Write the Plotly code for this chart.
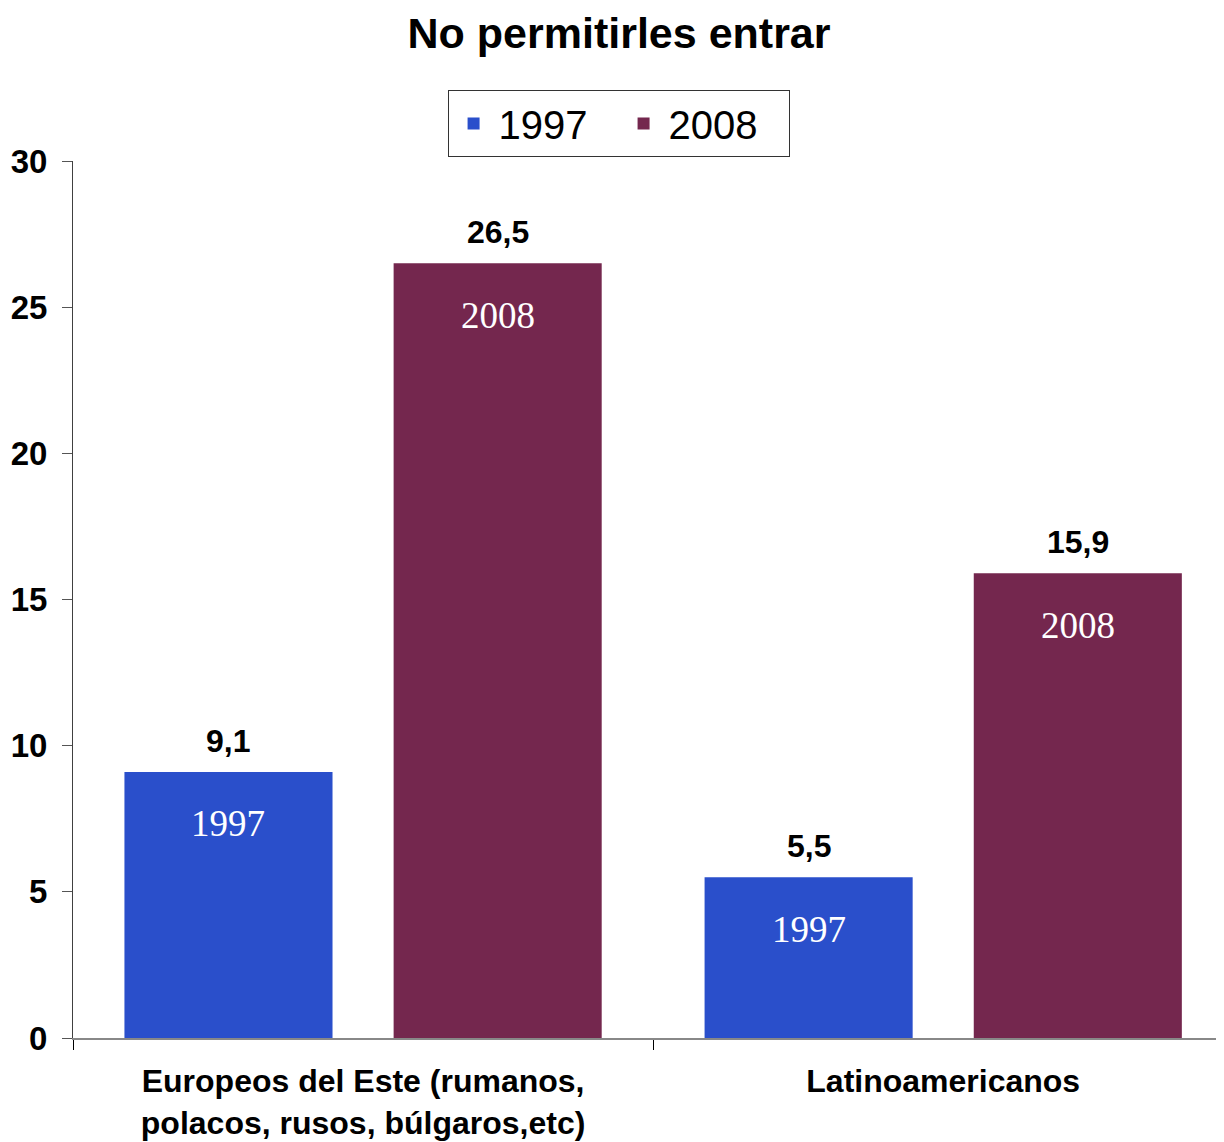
import plotly.graph_objects as go

CATEGORIES = ["Europeos del Este (rumanos,<br>polacos, rusos, búlgaros,etc)", "Latinoamericanos"]
YEARS = ["1997", "2008"]
VALUES_1997 = [9.1, 5.5]
VALUES_2008 = [26.5, 15.9]
Y_TICKS = [0, 5, 10, 15, 20, 25, 30]

COLORS = {"1997": "#2A4FCB", "2008": "#74274E"}
SANS = "Arial, Liberation Sans, sans-serif"
SERIF = "Times New Roman, Liberation Serif, serif"

BARGAP = 0.072
BARGROUPGAP = 0.227


def fmt(v):
    return f"{v:.1f}".replace(".", ",")


fig = go.Figure()
series = {"1997": VALUES_1997, "2008": VALUES_2008}
for year in YEARS:
    fig.add_trace(go.Bar(
        x=CATEGORIES, y=series[year], name=year,
        marker=dict(color=COLORS[year], line=dict(width=0)),
        hoverinfo="skip",
    ))

# labels: value above each bar, year inside near the top
slot = (1 - BARGAP) / 2
for k, year in enumerate(YEARS):
    offset = (k - 0.5) * slot
    for i, v in enumerate(series[year]):
        fig.add_annotation(
            x=i + offset, y=v, xref="x", yref="y", text=f"<b>{fmt(v)}</b>",
            showarrow=False, yshift=31, yanchor="middle",
            font=dict(family=SANS, size=32, color="black"),
        )
        fig.add_annotation(
            x=i + offset, y=v, xref="x", yref="y", text=year,
            showarrow=False, yshift=-52, yanchor="middle",
            font=dict(family=SERIF, size=37, color="white"),
        )

fig.update_layout(
    width=1216, height=1134,
    margin=dict(l=65, r=0, t=153, b=104),
    plot_bgcolor="white", paper_bgcolor="white",
    barmode="group", bargap=BARGAP, bargroupgap=BARGROUPGAP,
    title=dict(text="<b>No permitirles entrar</b>", x=0.5025, xanchor="center",
               y=0.978, yanchor="middle",
               font=dict(family=SANS, size=43, color="black")),
    legend=dict(orientation="h", x=0.474, xanchor="center", y=1.081, yanchor="top",
                bordercolor="#333333", borderwidth=1, bgcolor="white",
                itemwidth=40, entrywidth=115, tracegroupgap=0,
                font=dict(family=SANS, size=40, color="black")),
    font=dict(family=SANS, color="black"),
)
fig.update_xaxes(
    range=[-0.5, 1.484], showgrid=False, showline=True, linecolor="#888888", linewidth=2,
    ticks="outside", tickson="boundaries", ticklen=10, tickcolor="black",
    ticklabelstandoff=14, automargin=False,
    tickfont=dict(family=SANS, size=32, color="black", weight="bold"),
)
fig.update_yaxes(
    range=[0, 30], tickvals=Y_TICKS, showgrid=False, zeroline=False,
    showline=True, linecolor="#404040", linewidth=1,
    ticks="outside", ticklen=10, tickcolor="#555555",
    ticklabelstandoff=8, automargin=False,
    tickfont=dict(family=SANS, size=33, color="black", weight="bold"),
)

fig.write_html("out.html")
